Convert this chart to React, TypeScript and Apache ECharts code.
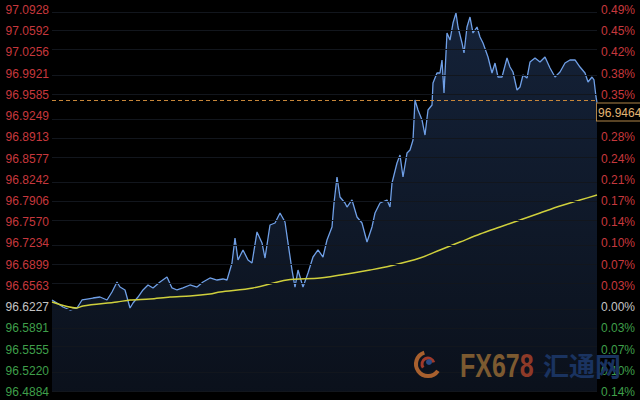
import React, { useEffect, useRef } from "react";
import * as echarts from "echarts";

// Left axis tick labels (price)
const priceTickLabels = [
  "96.4884", "96.5220", "96.5555", "96.5891", "96.6227", "96.6563", "96.6899",
  "96.7234", "96.7570", "96.7906", "96.8242", "96.8577", "96.8913", "96.9249",
  "96.9585", "96.9921", "97.0256", "97.0592", "97.0928",
];
// Right axis tick labels (change vs. base)
const pctTickLabels = [
  "0.14%", "0.10%", "0.07%", "0.03%", "0.00%", "0.03%", "0.07%", "0.10%",
  "0.14%", "0.17%", "0.21%", "0.24%", "0.28%", "0.31%", "0.35%", "0.38%",
  "0.42%", "0.45%", "0.49%",
];
const basePrice = 96.6227;
const lastPrice = 96.9464;

// Intraday price (time index, price)
const priceTimes = [
  0, 5, 11, 18, 25, 30, 35, 41, 48, 55, 60, 65, 68, 73, 78, 81, 86, 91, 96, 101,
  108, 115, 120, 125, 131, 138, 145, 151, 158, 165, 171, 175, 180, 183, 186, 191,
  196, 200, 205, 210, 213, 218, 223, 228, 233, 236, 240, 243, 246, 251, 256, 261,
  266, 271, 275, 280, 282, 285, 288, 293, 295, 300, 305, 310, 315, 320, 323, 328,
  335, 338, 340, 345, 348, 351, 355, 358, 361, 363, 366, 370, 373, 376, 380, 381,
  385, 388, 390, 392, 395, 398, 401, 404, 406, 410, 412, 415, 418, 421, 425, 428,
  431, 436, 440, 443, 446, 450, 455, 458, 461, 465, 468, 471, 475, 478, 483, 488,
  493, 498, 503, 508, 513, 518, 523, 528, 533, 536, 540, 542, 544, 545,
];
const priceValues = [
  96.634, 96.6292, 96.6229, 96.6181, 96.6213, 96.634, 96.6355, 96.6371, 96.6387,
  96.634, 96.6466, 96.6624, 96.6545, 96.6498, 96.6213, 96.6292, 96.6387, 96.6498,
  96.6577, 96.653, 96.6624, 96.6704, 96.653, 96.6498, 96.653, 96.6577, 96.6545,
  96.6624, 96.6688, 96.6656, 96.6672, 96.6656, 96.6925, 96.7321, 96.6973, 96.7131,
  96.6973, 96.6925, 96.7416, 96.7242, 96.7004, 96.7526, 96.7558, 96.7716, 96.7574,
  96.7242, 96.6814, 96.6545, 96.6814, 96.6545, 96.6767, 96.702, 96.7131, 96.702,
  96.7289, 96.7495, 96.7874, 96.8286, 96.7969, 96.7874, 96.7811, 96.7922, 96.7653,
  96.7558, 96.7257, 96.7495, 96.7716, 96.7874, 96.7922, 96.7811, 96.8191, 96.8507,
  96.8634, 96.8286, 96.8665, 96.8713, 96.8871, 96.9504, 96.9346, 96.9188, 96.895,
  96.9346, 96.9425, 96.9773, 96.9931, 96.9931, 97.0137, 96.9615, 97.0564, 97.0453,
  97.0722, 97.0881, 97.0659, 97.0406, 97.0248, 97.0659, 97.0817, 97.0564, 97.0659,
  97.0501, 97.0406, 97.0184, 96.9931, 97.0089, 96.9868, 96.9868, 97.0169, 97.0026,
  96.9947, 96.9662, 96.971, 96.99, 96.9852, 97.0105, 97.0169, 97.0105, 97.0184,
  97.001, 96.9868, 96.9947, 97.0089, 97.0137, 97.0137, 97.0026, 96.9931, 96.9789,
  96.9868, 96.9821, 96.9552, 96.9464,
];

// Moving average (time index, price)
const maTimes = [
  0, 25, 31, 65, 78, 98, 118, 138, 158, 168, 201, 235, 268, 301, 318, 338, 368,
  388, 408, 428, 448, 468, 488, 508, 528, 545,
];
const maValues = [
  96.6308, 96.6213, 96.6245, 96.6308, 96.634, 96.6355, 96.6387, 96.6403, 96.6435,
  96.6466, 96.653, 96.6656, 96.6688, 96.6767, 96.6814, 96.6878, 96.7004, 96.7131,
  96.7257, 96.7384, 96.7495, 96.7605, 96.7716, 96.7827, 96.7922, 96.8001,
];

const FONT = 'Arial, "Liberation Sans", sans-serif';
const RED = "#c7383d";
const GREEN = "#3f9f4a";
const GRAY = "#c4c4c4";

export default function App() {
  const ref = useRef<HTMLDivElement>(null);
  useEffect(() => {
    document.body.style.margin = "0";
    if (!ref.current) return;
    const chart = echarts.init(ref.current, null, { renderer: "svg" });
    const tickValues = priceTickLabels.map(Number);
    const minV = tickValues[0];
    const maxV = tickValues[tickValues.length - 1];
    const idxOf = (v: number) =>
      tickValues.findIndex((t) => Math.abs(t - v) < 1e-6);
    const colorOf = (v: any) => {
      const n = Number(v);
      if (Math.abs(n - basePrice) < 1e-6) return GRAY;
      return n > basePrice ? RED : GREEN;
    };
    const priceData = priceTimes.map((t, i) => [t, priceValues[i]]);
    const maData = maTimes.map((t, i) => [t, maValues[i]]);
    const lastT = priceTimes[priceTimes.length - 1];

    chart.setOption({
      animation: false,
      backgroundColor: "#000000",
      grid: { left: 52, right: 43, top: 10, bottom: 8 },
      xAxis: {
        type: "value",
        min: 0,
        max: lastT,
        show: false,
      },
      yAxis: [
        {
          type: "value",
          position: "left",
          min: minV,
          max: maxV,
          axisLine: { show: false },
          axisTick: { show: false },
          splitLine: { show: false },
          axisLabel: {
            customValues: tickValues,
            formatter: (v: number) => {
              const i = idxOf(v);
              return i >= 0 ? priceTickLabels[i] : "";
            },
            color: colorOf,
            fontFamily: FONT,
            fontSize: 12,
            margin: 3,
          },
        },
        {
          type: "value",
          position: "right",
          min: minV,
          max: maxV,
          axisLine: { show: false },
          axisTick: { show: false },
          splitLine: { show: false },
          axisLabel: {
            customValues: tickValues,
            formatter: (v: number) => {
              const i = idxOf(v);
              return i >= 0 ? pctTickLabels[i] : "";
            },
            color: colorOf,
            fontFamily: FONT,
            fontSize: 12,
            margin: 4,
          },
        },
      ],
      series: [
        {
          type: "line",
          name: "grid",
          data: [],
          z: 1,
          silent: true,
          markLine: {
            silent: true,
            symbol: "none",
            label: { show: false },
            lineStyle: { color: "#12161d", width: 1, type: "solid" },
            data: tickValues.map((v) => ({ yAxis: v })),
          },
        },
        {
          type: "line",
          name: "price",
          data: priceData,
          z: 3,
          showSymbol: false,
          symbol: "none",
          lineStyle: { color: "#6f9fe6", width: 1.3 },
          areaStyle: {
            origin: "start",
            color: new echarts.graphic.LinearGradient(0, 0, 0, 1, [
              { offset: 0, color: "rgba(36,60,100,0.8)" },
              { offset: 1, color: "rgba(18,28,46,0.85)" },
            ]),
          },
          markLine: {
            silent: true,
            symbol: "none",
            z: 10,
            lineStyle: { color: "#c8873a", width: 1, type: [4, 3] },
            label: { show: false },
            data: [{ yAxis: lastPrice }],
          },
          markPoint: {
            silent: true,
            symbol: "rect",
            symbolSize: 0,
            z: 12,
            itemStyle: { color: "transparent" },
            label: {
              show: true,
              position: [0, 1],
              formatter: lastPrice.toFixed(4),
              color: "#e3b574",
              backgroundColor: "#000",
              borderColor: "#b08548",
              borderWidth: 1,
              padding: [3, 3, 2, 1],
              fontFamily: FONT,
              fontSize: 12,
            },
            data: [{ coord: [lastT, lastPrice] }],
          },
        },
        {
          type: "line",
          name: "ma",
          data: maData,
          z: 4,
          showSymbol: false,
          symbol: "none",
          smooth: 0.3,
          lineStyle: { color: "#cfcf3c", width: 1.4 },
        },
      ],
      graphic: [
        {
          type: "arc",
          shape: { cx: 428, cy: 364, r: 12, startAngle: 0.6, endAngle: 4.4 },
          style: { stroke: "#a8602e", lineWidth: 4, fill: null },
          z: 20,
        },
        {
          type: "arc",
          shape: { cx: 428, cy: 364, r: 6, startAngle: 2.5, endAngle: 6.0 },
          style: { stroke: "#a03a2a", lineWidth: 3, fill: null },
          z: 20,
        },
        {
          type: "circle",
          shape: { cx: 429, cy: 362, r: 3 },
          style: { fill: "#2a4a86" },
          z: 20,
        },
        {
          type: "text",
          x: 460,
          y: 350,
          scaleY: 1.3,
          style: {
            text: "{a|FX67}{b|8}",
            verticalAlign: "top",
            rich: {
              a: {
                fill: "#7c5a30",
                font: 'bold 25px Arial, "Liberation Sans", sans-serif',
              },
              b: {
                fill: "#8e3a28",
                font: 'bold 25px Arial, "Liberation Sans", sans-serif',
              },
            },
          },
          z: 20,
        },
        {
          type: "text",
          x: 543,
          y: 351,
          style: {
            text: "汇通网",
            fill: "#1a3360",
            font: 'bold 26px "Noto Sans CJK SC", sans-serif',
          },
          z: 20,
        },
      ],
    });
    return () => chart.dispose();
  }, []);
  return <div ref={ref} style={{ width: 640, height: 400 }} />;
}
